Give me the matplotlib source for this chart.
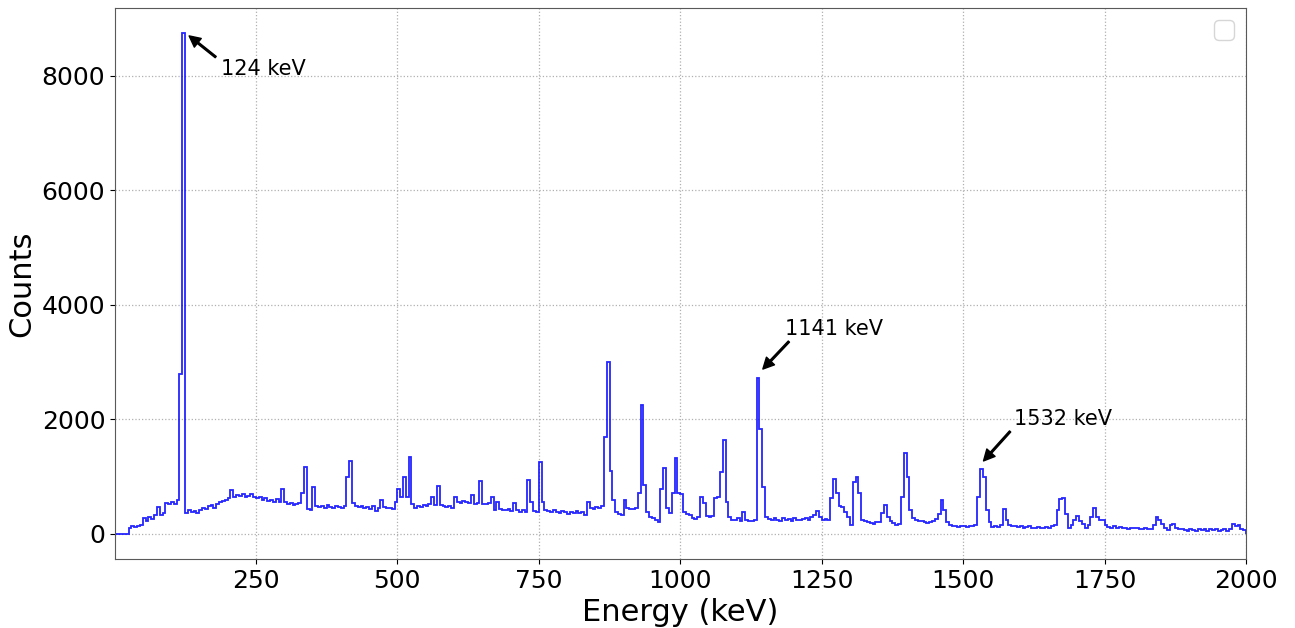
import numpy as np
import matplotlib
matplotlib.use('Agg')
import matplotlib.pyplot as plt

plt.rcParams['font.size'] = 18

# spectrum, 5 keV bins from 0 to 2000 keV (counts per bin)
bin_width = 5
counts = [
    0, 0, 0, 0, 0, 110, 130, 120, 140, 150,                 # 0
    280, 220, 300, 260, 330, 470, 330, 360, 540, 520,       # 50
    560, 520, 600, 2800, 8750, 360, 420, 380, 400, 370,     # 100
    410, 450, 430, 480, 500, 460, 530, 560, 570, 600,       # 150
    620, 760, 650, 680, 660, 700, 650, 670, 690, 640,       # 200
    620, 640, 600, 630, 580, 600, 560, 610, 550, 780,       # 250
    560, 520, 540, 510, 530, 540, 720, 1170, 430, 420,      # 300
    820, 480, 470, 490, 460, 500, 470, 450, 490, 470,       # 350
    460, 480, 1000, 1280, 540, 480, 470, 490, 460, 470,     # 400
    430, 480, 400, 460, 590, 470, 450, 460, 440, 560,       # 450
    780, 640, 1000, 640, 1340, 520, 460, 480, 470, 500,     # 500
    480, 520, 640, 500, 830, 500, 480, 470, 490, 460,       # 550
    640, 560, 540, 570, 550, 540, 680, 520, 540, 930,       # 600
    530, 520, 540, 650, 420, 560, 440, 420, 410, 430,       # 650
    400, 540, 420, 380, 420, 390, 950, 560, 400, 380,       # 700
    1250, 560, 420, 400, 380, 410, 390, 360, 400, 380,      # 750
    350, 390, 370, 400, 360, 380, 330, 560, 460, 440,       # 800
    470, 450, 480, 1700, 3000, 1100, 600, 380, 350, 330,    # 850
    590, 450, 440, 430, 450, 720, 2250, 850, 380, 300,      # 900
    270, 250, 200, 780, 1150, 450, 370, 720, 1320, 720,     # 950
    700, 380, 340, 330, 280, 260, 300, 640, 540, 320,       # 1000
    300, 310, 620, 650, 1090, 1640, 560, 300, 250, 240,     # 1050
    270, 230, 380, 240, 230, 220, 250, 2720, 1840, 820,     # 1100
    300, 260, 240, 270, 250, 230, 280, 240, 260, 230,       # 1150
    280, 250, 240, 260, 270, 250, 290, 330, 400, 290,       # 1200
    250, 260, 250, 620, 960, 720, 480, 470, 380, 300,       # 1250
    160, 900, 1000, 720, 250, 230, 210, 190, 180, 200,      # 1300
    210, 360, 500, 300, 230, 190, 160, 170, 640, 1410,      # 1350
    1000, 420, 280, 250, 220, 230, 200, 190, 210, 230,      # 1400
    260, 350, 590, 410, 200, 150, 130, 140, 120, 130,       # 1450
    140, 120, 130, 140, 150, 640, 1130, 990, 410, 200,      # 1500
    120, 130, 120, 150, 440, 240, 150, 140, 130, 120,       # 1550
    140, 110, 120, 130, 110, 100, 120, 110, 100, 120,       # 1600
    110, 130, 150, 410, 610, 620, 350, 110, 150, 250,       # 1650
    320, 230, 180, 100, 150, 300, 450, 300, 250, 240,       # 1700
    160, 120, 100, 130, 110, 120, 100, 110, 90, 100,        # 1750
    110, 100, 90, 80, 100, 90, 80, 160, 300, 250,           # 1800
    180, 100, 70, 150, 170, 100, 80, 90, 70, 60,            # 1850
    80, 70, 60, 80, 70, 90, 60, 80, 70, 90,                 # 1900
    60, 70, 80, 60, 80, 170, 130, 150, 90, 70,              # 1950
]

# annotated peaks: label, arrow head (keV, counts), arrow tail, text position
peak_labels = ['124 keV', '1141 keV', '1532 keV']
arrow_heads = [(132, 8700), (1146, 2880), (1536, 1275)]
arrow_tails = [(179, 8330), (1192, 3360), (1583, 1790)]
text_pos = [(189, 8120), (1186, 3580), (1589, 2000)]

edges = np.arange(0, 2000 + bin_width, bin_width)
centers = edges[:-1] + bin_width / 2

fig = plt.figure(figsize=(12.95, 6.28), dpi=100)
ax = fig.add_axes([0.0888, 0.1099, 0.8734, 0.8774])

ax.hist(centers, bins=edges, weights=counts, histtype='step',
        color='blue', linewidth=1.3, alpha=0.85)

for lab, head, tail, pos in zip(peak_labels, arrow_heads, arrow_tails, text_pos):
    ax.annotate('', xy=head, xytext=tail,
                arrowprops=dict(facecolor='black', edgecolor='black',
                                width=1.2, headwidth=8, headlength=8, shrink=0))
    ax.text(pos[0], pos[1], lab, fontsize=15, ha='left', va='center')

ax.set_xlim(1, 2000)
ax.set_ylim(-437.5, 9187.5)
ax.set_xlabel('Energy (keV)', fontsize=22)
ax.set_ylabel('Counts', fontsize=22)
ax.grid(True, linestyle=':', color='#b0b0b0', linewidth=0.9)
ax.set_axisbelow(True)

for edge in ['right', 'bottom', 'top', 'left']:
    ax.spines[edge].set_color('0.35')

# empty legend box, as in the original
ax.legend(handles=[], loc='upper right')

fig.savefig('out.png', dpi=100)
